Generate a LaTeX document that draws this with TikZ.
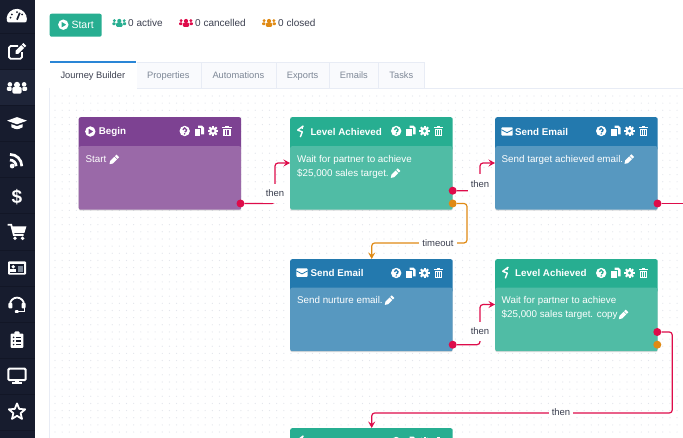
\documentclass[tikz,border=0pt]{standalone}
\usepackage{xcolor}
\usepackage{fontspec}
\setmainfont{Liberation Sans}
\usetikzlibrary{positioning,calc,shadows,backgrounds,arrows.meta}
\definecolor{SideDark}{RGB}{23,28,46}
\definecolor{SideActive}{RGB}{30,36,56}
\definecolor{SideLine}{RGB}{18,22,38}
\definecolor{PurpleHead}{RGB}{125,66,146}
\definecolor{PurpleBody}{RGB}{154,105,168}
\definecolor{GreenHead}{RGB}{39,174,145}
\definecolor{GreenBody}{RGB}{80,188,165}
\definecolor{BlueHead}{RGB}{35,121,174}
\definecolor{BlueBody}{RGB}{87,152,192}
\definecolor{TabBlue}{RGB}{42,134,214}
\definecolor{ThenRed}{RGB}{222,12,74}
\definecolor{TimeoutOrange}{RGB}{224,138,20}
\definecolor{TabLine}{RGB}{232,236,245}
\definecolor{TabFill}{RGB}{249,250,253}
\definecolor{TabGrey}{RGB}{125,135,150}
\definecolor{GridDot}{RGB}{226,229,235}
\definecolor{DarkText}{RGB}{60,64,80}
\tikzset{
    % --- icons of the cards ---
    pics/playicon/.style={code={
        \fill[white,even odd rule] (0,0) circle (5.2) (-1.8,3) -- (3.2,0) -- (-1.8,-3) -- cycle;
    }},
    pics/helpicon/.style={code={
        \fill[white] (0,0) circle (5.2);
        \draw[#1,line width=1.3pt] (-1.9,1.2) arc (180:-50:1.9) -- (0,-1);
        \fill[#1] (0,-2.9) circle (.85);
    }},
    pics/copyicon/.style={code={
        \fill[white] (-1,5.4) -- (3,5.4) -- (5,3.4) -- (5,-3.4) -- (-1,-3.4) -- cycle;
        \fill[white,draw=#1,line width=.6pt] (-5,3) rectangle (1.6,-5.6);
    }},
    pics/gearicon/.style={code={
        \foreach \a in {0,45,...,315} {\draw[white,line width=2pt] (\a:2.5) -- (\a:5.2);}
        \fill[white] (0,0) circle (3.9);
        \fill[#1] (0,0) circle (1.7);
    }},
    pics/trashicon/.style={code={
        \fill[white] (-4.6,3.1) rectangle (4.6,4.3);
        \fill[white] (-1.6,4.3) rectangle (1.6,5.3);
        \fill[white] (-3.9,2.3) rectangle (3.9,-5.4);
        \foreach \x in {-1.8,0,1.8} {\draw[#1,line width=.7pt] (\x,1) -- (\x,-4.2);}
    }},
    pics/pencilicon/.style={code={
        \fill[white,rotate=45] (-6.6,0) -- (-3.4,2.1) -- (3,2.1) -- (3,-2.1) -- (-3.4,-2.1) -- cycle;
        \fill[white,rotate=45] (3.9,2.1) rectangle (6.4,-2.1);
    }},
    pics/envelopeicon/.style={code={
        \fill[white,rounded corners=.8pt] (-5.6,4.2) rectangle (5.6,-4.2);
        \draw[#1,line width=.8pt] (-5.6,1.8) -- (0,-1.2) -- (5.6,1.8);
    }},
    pics/levelicon/.style={code={
        \draw[white,line width=1.4pt,line join=round] (2.6,5.6) -- (-3,1.4) -- (1.6,-.4) -- (-.4,-5.6);
        \fill[white] (2.8,5.8) -- (2,2.5) -- (.2,3.4) -- cycle;
    }},
    pics/cardicons/.style={code={
        \pic at (-56.7,0) {helpicon=#1};
        \pic at (-42.4,0) {copyicon=#1};
        \pic at (-28.4,0) {gearicon=#1};
        \pic at (-14.4,0) {trashicon=#1};
    }},
    pics/usersicon/.style={code={
        \fill[#1] (0,1.7) circle (2.1);
        \fill[#1,rounded corners=1.2pt] (-3.2,-4.3) rectangle (3.2,.1);
        \fill[#1] (-4.9,2) circle (1.6) (4.9,2) circle (1.6);
        \fill[#1,rounded corners=.8pt] (-6.9,-2.4) rectangle (-3.7,.3);
        \fill[#1,rounded corners=.8pt] (3.7,-2.4) rectangle (6.9,.3);
    }},
    % --- icons of the side bar ---
    pics/gaugeicon/.style={code={
        \fill[white,rounded corners=1pt] (-9.6,-6.6) arc (200:-20:10) -- cycle;
        \draw[SideDark,line width=1.7pt] (0,-4) -- (2.8,2.9);
        \foreach \a in {40,90,140,170} {\fill[SideDark] ($(0,-3)+(\a:6.6)$) circle (1);}
    }},
    pics/editicon/.style={code={
        \draw[white,line width=1.8pt,rounded corners=1.5pt] (1,5.6) -- (-8,5.6) -- (-8,-7) -- (5,-7) -- (5,-.5);
        \fill[white,shift={(3.2,2.6)},rotate=45] (-6.6,0) -- (-4.6,2) -- (3.6,2) -- (3.6,-2) -- (-4.6,-2) -- cycle;
        \fill[white,shift={(3.2,2.6)},rotate=45] (4.4,2) rectangle (6.6,-2);
    }},
    pics/capicon/.style={code={
        \fill[white] (-10,2.6) -- (0,6.2) -- (10,2.6) -- (0,-1) -- cycle;
        \fill[white] (-5.6,-.9) -- (-5.6,-4) .. controls (0,-6.6) .. (5.6,-4) -- (5.6,-.9) -- (0,-2.8) -- cycle;
    }},
    pics/rssicon/.style={code={
        \fill[white] (-4.8,-6) circle (2.4);
        \draw[white,line width=2.7pt] (-7,0) arc (90:0:6.2);
        \draw[white,line width=2.7pt] (-7,5.6) arc (90:0:11.8);
    }},
    pics/carticon/.style={code={
        \draw[white,line width=1.8pt] (-9.5,7) -- (-5.8,7) -- (-3.2,-3.2) -- (6.6,-3.2);
        \fill[white] (-5,5.2) -- (9.4,5.2) -- (7.4,-1.2) -- (-3.6,-1.2) -- cycle;
        \fill[white] (-2,-6.6) circle (1.9) (5.6,-6.6) circle (1.9);
    }},
    pics/cardidicon/.style={code={
        \fill[white,rounded corners=1pt] (-9,6.6) rectangle (9,-6.6);
        \fill[SideDark] (-7.4,3.6) rectangle (7.4,-5);
        \fill[white] (-3.8,1.2) circle (1.9);
        \fill[white] (-7,-3.8) rectangle (-.6,-.8);
        \fill[TabGrey] (1.4,2) rectangle (6.4,-3.6);
    }},
    pics/headseticon/.style={code={
        \draw[white,line width=1.8pt] (-7,-.6) arc (180:0:7);
        \fill[white,rounded corners=1pt] (-8.6,-4.4) rectangle (-4.6,1.2);
        \fill[white,rounded corners=1pt] (4.6,-4.4) rectangle (8.6,1.2);
        \draw[white,line width=1.4pt] (7.2,-4) -- (7.2,-7.6) -- (1,-7.6);
        \fill[white,rounded corners=.8pt] (-2.2,-9) rectangle (1.6,-6.2);
    }},
    pics/clipboardicon/.style={code={
        \fill[white,rounded corners=1pt] (-6.4,6.4) rectangle (6.4,-8);
        \fill[white,rounded corners=1pt] (-2.6,8.6) rectangle (2.6,5);
        \foreach \y in {2.6,-1,-4.6} {
            \fill[SideDark] (-3.4,\y) circle (.9);
            \draw[SideDark,line width=1.1pt] (-1.2,\y) -- (4,\y);
        }
    }},
    pics/desktopicon/.style={code={
        \draw[white,line width=2pt,rounded corners=1pt] (-8.6,7) rectangle (8.6,-4.4);
        \fill[white] (-2.2,-4.4) rectangle (2.2,-7);
        \fill[white] (-5.4,-6.8) rectangle (5.4,-8.6);
    }},
    pics/staricon/.style={code={
        \draw[white,line width=1.8pt,line join=round] (90:8.6) -- (126:3.8) -- (162:8.6) -- (198:3.8)
            -- (234:8.6) -- (270:3.8) -- (306:8.6) -- (342:3.8) -- (18:8.6) -- (54:3.8) -- cycle;
    }},
    % --- boxes ---
    cardhead/.style={
        rectangle, fill=#1, rounded corners=2pt,
        minimum width=162.5pt, minimum height=33pt,
        inner sep=0pt, anchor=north west
    },
    cardbody/.style={
        rectangle, fill=#1, rounded corners=2pt,
        minimum width=162.5pt, minimum height=63.5pt,
        inner sep=0pt, anchor=north west,
        drop shadow={shadow xshift=0pt, shadow yshift=-1pt, opacity=.28}
    },
    cardtitle/.style={
        text=white, anchor=west, inner sep=0pt,
        font=\fontsize{9.8}{12}\selectfont\bfseries
    },
    cardtext/.style={
        text=white, anchor=north west, align=left, inner sep=0pt,
        font=\fontsize{9.8}{14}\selectfont
    },
    outdot/.style={circle, fill=#1, minimum size=8pt, inner sep=0pt},
    edgelabel/.style={
        fill=white, text=DarkText, inner sep=0pt,
        minimum width=24pt, minimum height=19pt,
        font=\fontsize{9.5}{11}\selectfont
    },
    tabbox/.style={
        rectangle, draw=TabLine, fill=TabFill, text=TabGrey, line width=.7pt,
        minimum height=26pt, inner sep=0pt, anchor=north west,
        text height=7pt, text depth=0pt,
        font=\fontsize{9.3}{11}\selectfont
    },
    statlabel/.style={
        text=DarkText, anchor=west, inner sep=0pt,
        font=\fontsize{10}{12}\selectfont
    },
    thenline/.style={
        draw=ThenRed, line width=1.2pt, rounded corners=3pt,
        -{Stealth[length=6.5pt,width=7pt,inset=2.5pt]}
    },
    timeoutline/.style={
        draw=TimeoutOrange, line width=1.2pt, rounded corners=3pt,
        -{Stealth[length=6.5pt,width=7pt,inset=2.5pt]}
    }
}
\begin{document}
\begin{tikzpicture}[x=1pt, y=1pt]
    \useasboundingbox (0,0) rectangle (683,-438);

    % --- SIDE BAR ---
    \fill[SideDark] (0,0) rectangle (35,-438);
    \fill[SideActive] (0,-69) rectangle (35,-105);
    \foreach \y in {33,69,105,141,177,213,250,286,322,358,394,430} {
        \draw[SideLine,line width=.6pt] (0,-\y) -- (35,-\y);
    }
    \foreach \icon/\y in {gaugeicon/15.7, editicon/51.7, capicon/123.3, rssicon/160,
            carticon/231.7, cardidicon/268, headseticon/304, clipboardicon/340,
            desktopicon/375.7, staricon/412} {
        \pic at (17,-\y) {\icon};
    }
    \pic[scale=1.45] at (17,-87.3) {usersicon=white};
    \node[text=white, inner sep=0pt, font=\fontsize{19}{20}\selectfont\bfseries] (dollarsign) at (17,-196.7) {\$};

    % --- TOP ROW ---
    \node[rectangle, fill=GreenHead, rounded corners=2pt, minimum width=52pt, minimum height=23pt, anchor=north west] (startbutton) at (49.5,-13.5) {};
    \pic at (63.3,-24.7) {playicon};
    \node[statlabel, text=white, font=\fontsize{10.5}{12}\selectfont] (startlabel) at (71.3,-24.7) {Start};
    \foreach \name/\ink/\xicon/\xtext/\lab in {active/GreenHead/119.3/128/0 active,
            cancelled/ThenRed/186/195/0 cancelled, closed/TimeoutOrange/269/278/0 closed} {
        \pic at (\xicon,-22.7) {usersicon=\ink};
        \node[statlabel] (\name) at (\xtext,-22.7) {\lab};
    }

    % --- TABS ---
    \foreach \name/\xpos/\wid/\lab in {props/135.5/65/Properties, autos/200.5/75/Automations,
            exports/275.5/53.5/Exports, emails/329/49/Emails, tasks/378/46/Tasks} {
        \node[tabbox, minimum width=\wid pt] (\name) at (\xpos,-62) {\lab};
    }
    \node[tabbox, fill=white, draw=white, text=DarkText, minimum width=86pt] (journey) at (49.5,-62) {Journey Builder};
    \fill[TabBlue] (49.5,-61) rectangle (135.5,-63);

    % --- CARDS ---
    \node[cardhead=PurpleHead] (begin) at (78.5,-117) {};
    \node[cardbody=PurpleBody] (beginbody) at (78.5,-146) {};
    \node[cardhead=GreenHead] (level) at (290,-117) {};
    \node[cardbody=GreenBody] (levelbody) at (290,-146) {};
    \node[cardhead=BlueHead] (target) at (495,-117) {};
    \node[cardbody=BlueBody] (targetbody) at (495,-146) {};
    \node[cardhead=BlueHead] (nurture) at (290,-259) {};
    \node[cardbody=BlueBody] (nurturebody) at (290,-287.5) {};
    \node[cardhead=GreenHead] (levelcopy) at (495,-259) {};
    \node[cardbody=GreenBody] (levelcopybody) at (495,-287.5) {};
    \node[cardhead=GreenHead] (levelnext) at (290,-428) {};

    % --- CARD ICONS ---
    \foreach \card/\ink in {begin/PurpleHead, level/GreenHead, target/BlueHead,
            nurture/BlueHead, levelcopy/GreenHead, levelnext/GreenHead} {
        \pic at ([yshift=-14]\card.north east) {cardicons=\ink};
    }
    \pic at (90.3,-131.5) {playicon};
    \pic at (300.7,-131.5) {levelicon};
    \pic at (507,-131.5) {envelopeicon=BlueHead};
    \pic at (302,-272.7) {envelopeicon=BlueHead};
    \pic at (505.7,-272.7) {levelicon};
    \pic at (300.7,-441.5) {levelicon};

    % --- CARD TEXTS ---
    \node[cardtitle] (begintitle) at (98.7,-132) {Begin};
    \node[cardtitle] (leveltitle) at (310.3,-132) {Level Achieved};
    \node[cardtitle] (targettitle) at (515,-132) {Send Email};
    \node[cardtitle] (nurturetitle) at (310.5,-273) {Send Email};
    \node[cardtitle] (levelcopytitle) at (515,-273) {Level Achieved};
    \node[cardtext] (begintext) at (85.5,-155.5) {Start};
    \node[cardtext] (leveltext) at (297,-155.5) {Wait for partner to achieve\\\$25,000 sales target.};
    \node[cardtext] (targettext) at (501.5,-155.5) {Send target achieved email.};
    \node[cardtext] (nurturetext) at (297,-296.5) {Send nurture email.};
    \node[cardtext] (levelcopytext) at (501.5,-296.5) {Wait for partner to achieve\\\$25,000 sales target. copy};
    \foreach \xpos/\ypos in {113.7/160, 395/173.7, 628.7/159.7, 389/300.7, 623/315} {
        \pic[scale=.9] at (\xpos,-\ypos) {pencilicon};
    }

    % --- OUTPUT DOTS ---
    \node[outdot=ThenRed] (beginout) at (240.5,-203.5) {};
    \node[outdot=ThenRed] (levelout) at (452.7,-190.7) {};
    \node[outdot=TimeoutOrange] (leveltimeout) at (452.7,-203.5) {};
    \node[outdot=ThenRed] (targetout) at (657.5,-203.5) {};
    \node[outdot=ThenRed] (nurtureout) at (452.7,-344.7) {};
    \node[outdot=ThenRed] (levelcopyout) at (657.3,-332) {};
    \node[outdot=TimeoutOrange] (levelcopytimeout) at (657.3,-344.7) {};

    % --- LABELS ON THE CONNECTORS ---
    \node[edgelabel] (beginthen) at (275,-193.4) {then};
    \node[edgelabel] (levelthen) at (480,-183.7) {then};
    \node[edgelabel] (nurturethen) at (480,-331.3) {then};
    \node[edgelabel, minimum width=38pt, minimum height=12pt] (timeoutlabel) at (438,-243) {timeout};
    \node[edgelabel, minimum height=12pt] (copythen) at (561,-412.5) {then};

    \coordinate (levelin) at (290,-163);
    \coordinate (targetin) at (495,-163);
    \coordinate (levelcopyin) at (495,-304.5);
    \coordinate (nurturein) at (371.7,-259);
    \coordinate (levelnextin) at (371.7,-428);
    \coordinate (timeoutbend) at (467,-243);
    \coordinate (copybend) at (672.3,-413);
    \coordinate (targetfree) at (683,-203.5);

    \begin{scope}[on background layer]
        % --- PAGE AND DOTTED GROUND ---
        \fill[white] (0,0) rectangle (683,-438);
        \draw[TabLine,line width=.8pt] (49.5,-88) -- (49.5,-438);
        \draw[TabLine,line width=.8pt] (135.5,-88) -- (683,-88);
        \foreach \x in {0,...,88} {
            \foreach \y in {0,...,47} {
                \fill[GridDot] (55+7.15*\x,-96-7.15*\y) circle (.6);
            }
        }
        % --- CONNECTORS ---
        \draw[thenline] (beginout) -| (beginthen.center) |- (levelin);
        \draw[thenline] (levelout) -| (levelthen.center) |- (targetin);
        \draw[thenline] (nurtureout) -| (nurturethen.center) |- (levelcopyin);
        \draw[timeoutline] (leveltimeout) -| (timeoutbend) -| (nurturein);
        \draw[thenline] (levelcopyout) -| (copybend) -| (levelnextin);
        \draw[draw=ThenRed, line width=1.2pt] (targetout) -- (targetfree);
    \end{scope}
\end{tikzpicture}
\end{document}
